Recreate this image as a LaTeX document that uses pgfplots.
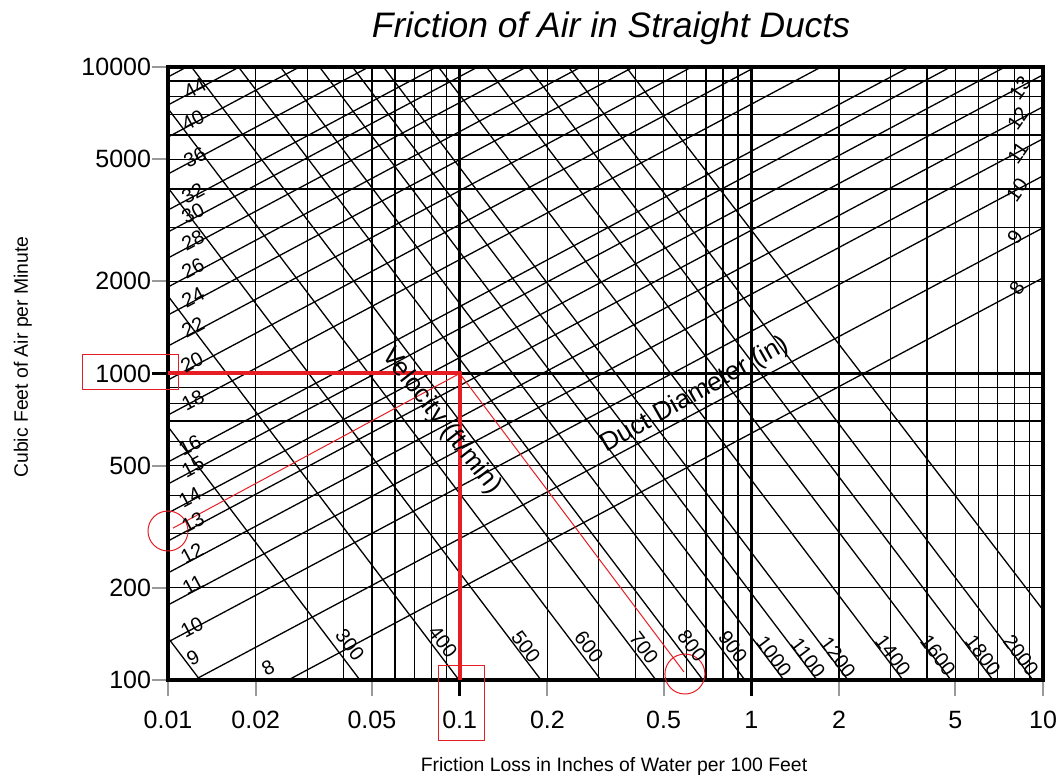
\documentclass[border=0pt]{standalone}
\usepackage{fontspec}
\setmainfont{Liberation Sans}
\usepackage{pgfplots}
\pgfplotsset{compat=1.18}

\definecolor{guide}{RGB}{230,30,36}
\newcommand\lbl{\fontsize{10}{12}\selectfont}
\pgfplotsset{dl/.style={black, line width=0.65pt, mark=none, solid}}

\begin{document}
\begin{tikzpicture}
\begin{axis}[
    scale only axis, width=437.5pt, height=306.5pt,
    xmode=log, ymode=log,
    xmin=0.01, xmax=10, ymin=100, ymax=10000,
    axis line style={line width=2pt},
    xtick={0.01,0.02,0.05,0.1,0.2,0.5,1,2,5,10},
    xticklabels={0.01,0.02,0.05,0.1,0.2,0.5,1,2,5,10},
    ytick={100,200,500,1000,2000,5000,10000},
    yticklabels={100,200,500,1000,2000,5000,10000},
    minor xtick={0.02,0.03,0.04,0.05,0.06,0.07,0.08,0.09,0.2,0.3,0.4,0.5,0.6,0.7,0.8,0.9,2,3,4,5,6,7,8,9},
    minor ytick={200,300,400,500,600,700,800,900,2000,3000,4000,5000,6000,7000,8000,9000},
    xminorgrids, yminorgrids,
    minor grid style={black, line width=0.65pt},
    minor tick length=0pt,
    major tick length=8pt,
    tick align=outside, tick pos=left,
    major tick style={black!40, line width=1pt},
    extra x ticks={0.1,1}, extra y ticks={1000},
    extra x tick labels={}, extra y tick labels={},
    extra tick style={grid=major, major grid style={black, line width=1.35pt},
        major tick style={black, line width=1.35pt}},
    tick label style={font=\fontsize{12.5}{15}\selectfont},
    xticklabel style={yshift=-4pt},
    yticklabel style={xshift=3pt},
    clip marker paths=false,
]
% duct diameter lines (in), friction 0.01 -> 10
\addplot[dl] coordinates {(0.01,61.8) (10,2051)};   % 8
\addplot[dl] coordinates {(0.01,90.0) (10,2987)};   % 9
\addplot[dl] coordinates {(0.01,133.0) (10,4414)};  % 10
\addplot[dl] coordinates {(0.01,175.7) (10,5832)};  % 11
\addplot[dl] coordinates {(0.01,223.5) (10,7418)};  % 12
\addplot[dl] coordinates {(0.01,284.1) (10,9429)};  % 13
\addplot[dl] coordinates {(0.01,350.6) (10,11640)}; % 14
\addplot[dl] coordinates {(0.01,436.0) (10,14470)}; % 15
\addplot[dl] coordinates {(0.01,514.3) (10,17070)}; % 16
\addplot[dl] coordinates {(0.01,732.1) (10,24300)}; % 18
\addplot[dl] coordinates {(0.01,952.4) (10,31610)}; % 20
\addplot[dl] coordinates {(0.01,1229) (10,40790)};  % 22
\addplot[dl] coordinates {(0.01,1552) (10,51510)};  % 24
\addplot[dl] coordinates {(0.01,1915) (10,63560)};  % 26
\addplot[dl] coordinates {(0.01,2381) (10,79030)};  % 28
\addplot[dl] coordinates {(0.01,2895) (10,96090)};  % 30
\addplot[dl] coordinates {(0.01,3414) (10,113300)}; % 32
\addplot[dl] coordinates {(0.01,4476) (10,148600)}; % 36
\addplot[dl] coordinates {(0.01,5909) (10,196100)}; % 40
\addplot[dl] coordinates {(0.01,7516) (10,249500)}; % 44
\addplot[dl] coordinates {(0.01,9277) (10,307900)}; % 48
% velocity lines (ft/min)
\addplot[dl] coordinates {(0.012875,100) (0.0003292,10000)}; % 200
\addplot[dl] coordinates {(0.04551,100) (0.0011635,10000)};  % 300
\addplot[dl] coordinates {(0.09945,100) (0.002543,10000)};   % 400
\addplot[dl] coordinates {(0.19002,100) (0.004858,10000)};   % 500
\addplot[dl] coordinates {(0.30506,100) (0.007798,10000)};   % 600
\addplot[dl] coordinates {(0.47098,100) (0.012040,10000)};   % 700
\addplot[dl] coordinates {(0.68235,100) (0.017445,10000)};   % 800
\addplot[dl] coordinates {(0.95084,100) (0.024300,10000)};   % 900
\addplot[dl] coordinates {(1.2937,100) (0.033074,10000)};    % 1000
\addplot[dl] coordinates {(1.6790,100) (0.042914,10000)};    % 1100
\addplot[dl] coordinates {(2.1445,100) (0.054814,10000)};    % 1200
\addplot[dl] coordinates {(3.3097,100) (0.084585,10000)};    % 1400
\addplot[dl] coordinates {(4.8339,100) (0.12355,10000)};     % 1600
\addplot[dl] coordinates {(6.7345,100) (0.17210,10000)};     % 1800
\addplot[dl] coordinates {(9.2353,100) (0.23605,10000)};     % 2000
\addplot[dl] coordinates {(0.3721,10000) (10,169.2)};        % unlabelled
% worked example in red
\addplot[guide, line width=2pt, mark=none] coordinates {(0.01,1000) (0.1,1000) (0.1,100)};
\addplot[guide, line width=0.5pt, mark=none] coordinates {(0.0104,313) (0.1,1000) (0.5875,106.2)};
\addplot[draw=none, only marks, mark=o, mark size=10pt,
    mark options={draw=guide, fill=none, line width=0.5pt, solid}]
    coordinates {(0.01,306.3) (0.592,104.6)};
\coordinate (o) at (rel axis cs:0,0);
\end{axis}

% annotations, in pixel units of the reference (origin top left)
\begin{scope}[shift={(o)}, x=0.5pt, y=-0.5pt, shift={(-168,-680)}]
\node[anchor=base, font=\fontsize{17.7}{20}\selectfont\itshape] at (611,38) {Friction of Air in Straight Ducts};
\node[anchor=base, rotate=90, font=\fontsize{9.7}{12}\selectfont] at (28,357) {Cubic Feet of Air per Minute};
\node[anchor=base, font=\fontsize{9.7}{12}\selectfont] at (614,771) {Friction Loss in Inches of Water per 100 Feet};
\foreach \t/\x/\y in {44/195/88, 40/193/120, 36/195/157, 32/193/193, 30/193/213,
    28/193/240, 26/193/268, 24/193/297, 22/193/327, 20/192/362, 18/193/400,
    16/190/445, 15/193/467, 14/190/497, 13/193/522, 12/192/553, 11/193/585,
    10/192/627, 9/193/658, 8/268/668}
  \node[rotate=28, font=\lbl, inner sep=0pt] at (\x,\y) {\t};
\foreach \t/\x/\y in {13/1020/88, 12/1018/118, 11/1018/153, 10/1017/190, 9/1015/237, 8/1017/288}
  \node[rotate=55, font=\lbl, inner sep=0pt] at (\x,\y) {\t};
\foreach \t/\x/\y in {300/350/645, 400/443/642, 500/526/647, 600/589/647, 700/644/648,
    800/692/646, 900/733/647, 1000/774/656, 1100/808/658, 1200/838/657,
    1400/893/655, 1600/938/655, 1800/983/655, 2000/1021/655}
  \node[rotate=-53, font=\lbl, inner sep=0pt] at (\x,\y) {\t};
\node[rotate=-52, font=\fontsize{13}{15}\selectfont, inner sep=0pt] at (441,421) {Velocity (ft/min)};
\node[rotate=29.5, font=\fontsize{13}{15}\selectfont, inner sep=0pt] at (695,395) {Duct Diameter (in)};
\draw[guide, line width=0.5pt] (83,355) rectangle (178,390);
\draw[guide, line width=0.5pt] (438,665) rectangle (484,740);
\pgfresetboundingbox
\path[use as bounding box] (0,0) rectangle (1063,776);
\end{scope}
\end{tikzpicture}
\end{document}
